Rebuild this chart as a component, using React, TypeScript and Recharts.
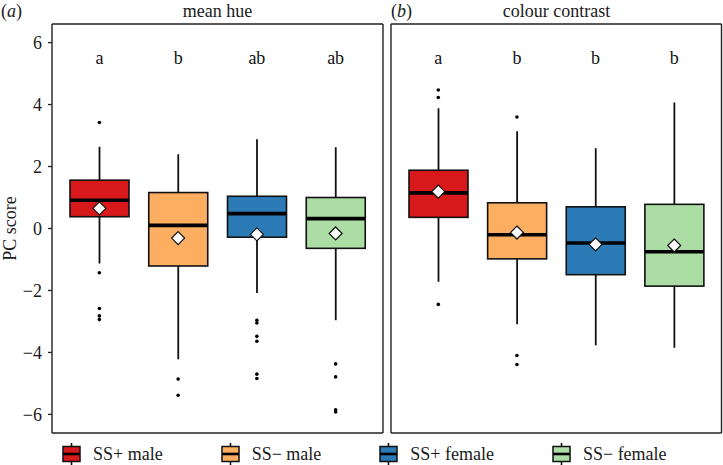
import React from "react"
import { Bar, CartesianGrid, ComposedChart, Scatter, XAxis, YAxis } from "recharts"

// groups / colours
const groups = ["SS+ male", "SS\u2212 male", "SS+ female", "SS\u2212 female"]
const groupColors = ["#d7191c", "#fdae61", "#2c7bb6", "#abdda4"]

// (a) mean hue
const hueLow = [-1.13, -4.22, -2.08, -2.96]
const hueQ1 = [0.38, -1.21, -0.28, -0.64]
const hueMed = [0.91, 0.1, 0.48, 0.32]
const hueQ3 = [1.56, 1.16, 1.04, 1.0]
const hueHigh = [2.64, 2.4, 2.88, 2.62]
const hueMean = [0.65, -0.31, -0.19, -0.16]
const hueOutliers = [
  [3.42, -1.43, -2.58, -2.82, -2.94],
  [-4.86, -5.38],
  [-2.96, -3.05, -3.48, -3.64, -4.7, -4.84],
  [-4.37, -4.79, -5.85, -5.92],
]
const hueLetters = ["a", "b", "ab", "ab"]

// (b) colour contrast
const conLow = [-1.72, -3.09, -3.77, -3.85]
const conQ1 = [0.36, -0.98, -1.49, -1.86]
const conMed = [1.15, -0.2, -0.47, -0.75]
const conQ3 = [1.88, 0.83, 0.7, 0.78]
const conHigh = [3.88, 3.14, 2.59, 4.07]
const conMean = [1.19, -0.13, -0.51, -0.55]
const conOutliers = [[4.47, 4.23, -2.45], [3.6, -4.1, -4.39], [], []]
const conLetters = ["a", "b", "b", "b"]

const yTicks = [-6, -4, -2, 0, 2, 4, 6]
const Y_DOMAIN: [number, number] = [-6.6, 6.6]
const LETTER_Y = 5.5

const INK = "#111"
const SERIF = "'Liberation Serif', 'Times New Roman', serif"

function buildRows(lo, q1, med, q3, hi, mean, letters) {
  return groups.map((group, i) => ({
    group,
    lo: lo[i],
    q1: q1[i],
    med: med[i],
    q3: q3[i],
    hi: hi[i],
    mean: mean[i],
    letter: letters[i],
    color: groupColors[i],
  }))
}

function buildOutliers(outs) {
  return outs.flatMap((vals, i) => vals.map((v) => ({ group: groups[i], v })))
}

const BoxShape = (props) => {
  const { x, y, width, height, payload } = props
  const top = Math.min(y, y + height)
  const bot = Math.max(y, y + height)
  const k = (bot - top) / (payload.hi - payload.lo)
  const py = (v) => top + (payload.hi - v) * k
  const cx = x + width / 2
  return (
    <g>
      <line x1={cx} x2={cx} y1={top} y2={bot} stroke={INK} strokeWidth={1.8} />
      <rect
        x={x}
        y={py(payload.q3)}
        width={width}
        height={py(payload.q1) - py(payload.q3)}
        fill={payload.color}
        stroke={INK}
        strokeWidth={1.6}
      />
      <line x1={x} x2={x + width} y1={py(payload.med)} y2={py(payload.med)} stroke="#000" strokeWidth={3.6} />
    </g>
  )
}

const Diamond = ({ cx, cy }) => (
  <path
    d={`M${cx},${cy - 6.5}L${cx + 6.5},${cy}L${cx},${cy + 6.5}L${cx - 6.5},${cy}Z`}
    fill="#fff"
    stroke={INK}
    strokeWidth={1.2}
  />
)

const Dot = ({ cx, cy }) => <circle cx={cx} cy={cy} r={1.8} fill="#000" />

const Letter = ({ cx, cy, payload }) => (
  <text x={cx} y={cy} textAnchor="middle" dominantBaseline="central" fontSize={18} fontFamily={SERIF} fill="#111">
    {payload.letter}
  </text>
)

function Panel({ rows, outliers, showY, width, margin }) {
  return (
    <ComposedChart width={width} height={465} data={rows} margin={margin}>
      <CartesianGrid
        stroke="#222"
        strokeWidth={1.4}
        verticalCoordinatesGenerator={({ offset }) => [offset.left, offset.left + offset.width]}
        horizontalCoordinatesGenerator={({ offset }) => [offset.top, offset.top + offset.height]}
      />
      <XAxis dataKey="group" type="category" hide padding={{ left: 8, right: 8 }} allowDuplicatedCategory={false} />
      <YAxis
        type="number"
        domain={Y_DOMAIN}
        ticks={yTicks}
        allowDataOverflow
        hide={!showY}
        width={52}
        axisLine={false}
        tickSize={4}
        tickMargin={6}
        tickLine={{ stroke: "#222", strokeWidth: 1.3 }}
        tick={{ fontSize: 18, fill: "#1a1a1a", fontFamily: SERIF }}
        tickFormatter={(v) => String(v).replace("-", "\u2212")}
        label={
          showY
            ? {
                value: "PC score",
                angle: -90,
                position: "insideLeft",
                offset: 10,
                fontSize: 18,
                fontFamily: SERIF,
                fill: "#1a1a1a",
                style: { textAnchor: "middle" },
              }
            : undefined
        }
      />
      <Bar dataKey={(d) => [d.lo, d.hi]} barSize={59} shape={BoxShape} isAnimationActive={false} />
      <Scatter data={outliers} dataKey="v" shape={Dot} isAnimationActive={false} />
      <Scatter dataKey="mean" shape={Diamond} isAnimationActive={false} />
      <Scatter dataKey={() => LETTER_Y} shape={Letter} isAnimationActive={false} />
    </ComposedChart>
  )
}

function LegendKey({ color }) {
  return (
    <svg width={19} height={24} style={{ display: "block", flexShrink: 0 }}>
      <line x1={9.5} x2={9.5} y1={1} y2={24} stroke={INK} strokeWidth={1.6} />
      <rect x={1} y={4.5} width={17} height={15} fill={color} stroke={INK} strokeWidth={1.5} />
      <line x1={1} x2={18} y1={12} y2={12} stroke="#000" strokeWidth={2.6} />
    </svg>
  )
}

export default function App() {
  const hueRows = buildRows(hueLow, hueQ1, hueMed, hueQ3, hueHigh, hueMean, hueLetters)
  const conRows = buildRows(conLow, conQ1, conMed, conQ3, conHigh, conMean, conLetters)
  const text = { position: "absolute" as const, fontSize: 18, lineHeight: "20px", color: "#1a1a1a", whiteSpace: "nowrap" as const }

  return (
    <div
      style={{
        position: "absolute",
        left: 0,
        top: 0,
        width: 723,
        height: 465,
        background: "#fff",
        fontFamily: SERIF,
        overflow: "hidden",
      }}
    >
      <div style={{ position: "absolute", left: 0, top: 0 }}>
        <Panel rows={hueRows} outliers={buildOutliers(hueOutliers)} showY width={390} margin={{ top: 24, right: 7, bottom: 32, left: 0 }} />
      </div>
      <div style={{ position: "absolute", left: 384, top: 0 }}>
        <Panel rows={conRows} outliers={buildOutliers(conOutliers)} showY={false} width={339} margin={{ top: 24, right: 1.5, bottom: 32, left: 7 }} />
      </div>

      <div style={{ ...text, left: 1, top: 1 }}>
        (<i>a</i>)
      </div>
      <div style={{ ...text, left: 52, width: 331, top: 1, textAlign: "center" }}>mean hue</div>
      <div style={{ ...text, left: 391, top: 1 }}>
        (<i>b</i>)
      </div>
      <div style={{ ...text, left: 391, width: 331, top: 1, textAlign: "center" }}>colour contrast</div>

      <div
        style={{
          position: "absolute",
          left: 62,
          top: 441.5,
          width: 700,
          display: "flex",
          alignItems: "center",
          whiteSpace: "nowrap",
        }}
      >
        {groups.map((g, i) => (
          <div key={g} style={{ display: "flex", alignItems: "center", marginRight: 58, flexShrink: 0 }}>
            <LegendKey color={groupColors[i]} />
            <span style={{ marginLeft: 12, fontSize: 18, lineHeight: "24px", color: "#1a1a1a" }}>{g}</span>
          </div>
        ))}
      </div>
    </div>
  )
}
